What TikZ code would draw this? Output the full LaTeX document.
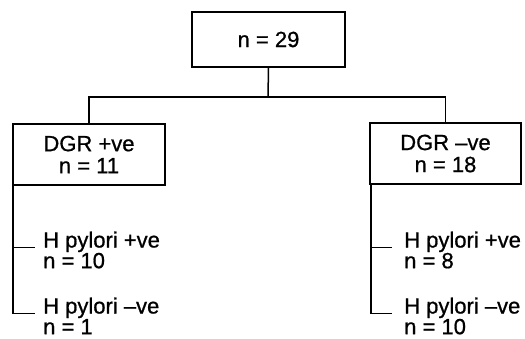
\documentclass[tikz,border=0pt]{standalone}
\usepackage{fontspec}
\setmainfont{Liberation Sans}
\newfontfamily\diagfont{Liberation Sans}[FakeBold=0.8]
\begin{document}
\begin{tikzpicture}[x=1pt,y=-1pt,
  box/.style={draw,line width=1.8pt,inner sep=0pt,align=center,font=\diagfont\fontsize{22}{22}\selectfont},
  lbl/.style={inner sep=0pt,anchor=base west,font=\diagfont\fontsize{22}{22}\selectfont},
  conn/.style={line width=1.5pt}]
\useasboundingbox (0,0) rectangle (525,338);
\node[box,minimum width=153pt,minimum height=55pt] (top) at (268.5,39.5) {n = 29};
\node[box,minimum width=152pt,minimum height=61pt] (left) at (89,154.5) {DGR +ve\\n = 11};
\node[box,minimum width=151pt,minimum height=61pt] (right) at (445.5,153.5) {DGR –ve\\n = 18};
\coordinate (split) at (268,97);
\draw[conn] (top.south) -- (split);
\draw[conn] (split) -| (left.north);
\draw[conn] (split) -| (right.north);
% branch labels
\node[lbl] (lp) at (43,247.5) {H pylori +ve};
\node[lbl] (lpn) at (43,268.2) {n = 10};
\node[lbl] (lm) at (43,313.5) {H pylori –ve};
\node[lbl] (lmn) at (43,334.2) {n = 1};
\node[lbl] (rp) at (404,247.5) {H pylori +ve};
\node[lbl] (rpn) at (404,268.2) {n = 8};
\node[lbl] (rm) at (404,313.5) {H pylori –ve};
\node[lbl] (rmn) at (404,334.2) {n = 10};
\coordinate (lb) at ([xshift=1pt]left.south west);
\coordinate (rb) at ([xshift=2pt]right.south west);
\draw[conn] (lb) |- ([xshift=-8pt]lm.base west);
\draw[conn] ([xshift=-29pt]lp.base west) -- ([xshift=-8pt]lp.base west);
\draw[conn] (rb) |- ([xshift=-12pt]rm.base west);
\draw[conn] ([xshift=-32pt]rp.base west) -- ([xshift=-12pt]rp.base west);
\end{tikzpicture}
\end{document}
